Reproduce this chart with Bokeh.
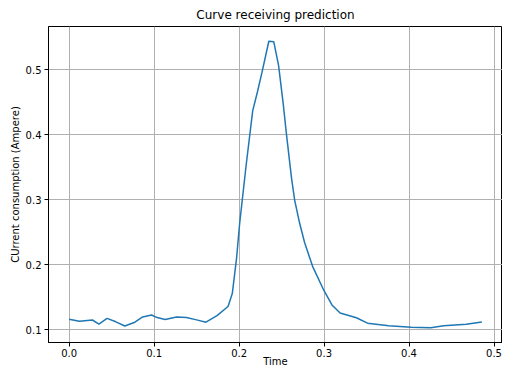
from bokeh.plotting import figure
from bokeh.models import FixedTicker, Range1d, CustomJSTickFormatter
from bokeh.embed import file_html
from bokeh.resources import INLINE

time = [0.0, 0.012, 0.0274, 0.035, 0.0446, 0.055, 0.0655, 0.0766, 0.0865, 0.097,
        0.1036, 0.113, 0.1265, 0.138, 0.15, 0.161, 0.174, 0.187, 0.192, 0.197,
        0.2007, 0.2083, 0.216, 0.2217, 0.227, 0.235, 0.2408, 0.2465, 0.252, 0.256,
        0.2617, 0.2655, 0.2712, 0.277, 0.2865, 0.2998, 0.3093, 0.3189, 0.338, 0.3512,
        0.376, 0.4027, 0.4255, 0.4408, 0.4674, 0.4857]
current = [0.1163, 0.1133, 0.1153, 0.109, 0.1178, 0.1125, 0.106, 0.1114, 0.120, 0.123,
           0.119, 0.116, 0.120, 0.119, 0.1155, 0.112, 0.122, 0.136, 0.156, 0.210,
           0.2644, 0.3533, 0.437, 0.4667, 0.4965, 0.544, 0.5434, 0.5064, 0.447, 0.398,
           0.3336, 0.299, 0.2644, 0.2348, 0.1978, 0.1607, 0.1385, 0.1262, 0.1188, 0.1104,
           0.1064, 0.104, 0.1034, 0.1064, 0.1089, 0.1123]
x_ticks = [0.0, 0.1, 0.2, 0.3, 0.4, 0.5]
y_ticks = [0.1, 0.2, 0.3, 0.4, 0.5]

FONT = "DejaVu Sans"

p = figure(width=502, height=369, output_backend="svg", toolbar_location=None,
           title="Curve receiving prediction",
           x_range=Range1d(-0.0243, 0.510), y_range=Range1d(0.0807, 0.5667),
           min_border_left=48, min_border_right=0, min_border_top=2, min_border_bottom=0)

p.line(time, current, line_color="#1f77b4", line_width=1.5)

p.title.align = "center"
p.title.text_font = FONT
p.title.text_font_size = "12px"
p.title.text_font_style = "normal"
p.title.text_color = "black"

p.xaxis.axis_label = "Time"
p.yaxis.axis_label = "CUrrent consumption (Ampere)"
p.xaxis.ticker = FixedTicker(ticks=x_ticks)
p.yaxis.ticker = FixedTicker(ticks=y_ticks)
p.xaxis.formatter = CustomJSTickFormatter(code="return tick.toFixed(1);")
p.yaxis.formatter = CustomJSTickFormatter(code="return tick.toFixed(1);")

for ax in [p.xaxis[0], p.yaxis[0]]:
    ax.axis_label_text_font = FONT
    ax.axis_label_text_font_size = "10px"
    ax.axis_label_text_font_style = "normal"
    ax.axis_label_text_color = "black"
    ax.major_label_text_font = FONT
    ax.major_label_text_font_size = "10px"
    ax.major_label_text_color = "black"
    ax.minor_tick_line_color = None
    ax.major_tick_out = 4
    ax.major_tick_in = 0
    ax.major_tick_line_color = "black"
    ax.axis_line_color = "black"
    ax.major_label_standoff = 3

p.xaxis.major_label_standoff = 2
p.xaxis.axis_label_standoff = -4
p.yaxis.axis_label_standoff = 2

p.xgrid.ticker = FixedTicker(ticks=x_ticks)
p.ygrid.ticker = FixedTicker(ticks=y_ticks)
p.grid.grid_line_color = "#b0b0b0"
p.grid.grid_line_width = 1
p.outline_line_color = "black"
p.outline_line_width = 1
p.outline_line_alpha = 1.0
p.background_fill_color = "white"
p.border_fill_color = "white"

open("out.html", "w").write(file_html(p, INLINE))
